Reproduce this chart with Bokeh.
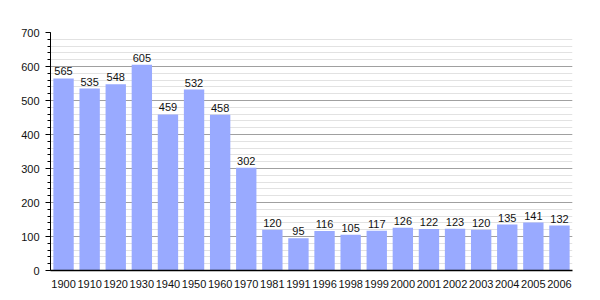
from bokeh.plotting import figure
from bokeh.models import FactorRange, Range1d, ColumnDataSource, FixedTicker
from bokeh.core.properties import value
from bokeh.embed import file_html
from bokeh.resources import INLINE

years = ["1900", "1910", "1920", "1930", "1940", "1950", "1960", "1970", "1981", "1991",
         "1996", "1998", "1999", "2000", "2001", "2002", "2003", "2004", "2005", "2006"]
population = [565, 535, 548, 605, 459, 532, 458, 302, 120, 95,
              116, 105, 117, 126, 122, 123, 120, 135, 141, 132]
y_ticks = [0, 100, 200, 300, 400, 500, 600, 700]

src = ColumnDataSource(dict(x=years, y=population, label=[str(v) for v in population]))

p = figure(width=600, height=300, output_backend="svg", toolbar_location=None,
           x_range=FactorRange(factors=years, range_padding=0),
           y_range=Range1d(0, 700),
           min_border_left=50, min_border_right=28, min_border_top=32, min_border_bottom=30)
p.outline_line_color = None
p.background_fill_color = "white"
p.border_fill_color = "white"

p.vbar(x="x", top="y", width=0.78, source=src, fill_color="#99aaff", line_color=None)
p.text(x="x", y="y", text="label", source=src, text_align="center", text_baseline="bottom",
       y_offset=-3, text_font_size="11px", text_color="#111111",
       text_font=value("Liberation Sans"))

p.xgrid.grid_line_color = None
p.ygrid.grid_line_color = "#a0a0a0"
p.ygrid.minor_grid_line_color = "#e2e2e2"
p.ygrid.level = "underlay"

p.yaxis.ticker = FixedTicker(ticks=y_ticks, minor_ticks=list(range(0, 701, 20)))
p.yaxis.axis_line_color = "black"
p.yaxis.major_tick_line_color = "black"
p.yaxis.minor_tick_line_color = "black"
p.yaxis.major_tick_out = 5
p.yaxis.major_tick_in = 0
p.yaxis.minor_tick_out = 3
p.yaxis.minor_tick_in = 0
p.yaxis.major_label_text_font_size = "11px"
p.yaxis.major_label_text_font = "Liberation Sans"
p.yaxis.major_label_text_color = "#111111"
p.yaxis.major_label_standoff = 6

p.xaxis.axis_line_color = "black"
p.xaxis.axis_line_width = 1.5
p.xaxis.major_tick_line_color = None
p.xaxis.minor_tick_line_color = None
p.xaxis.major_label_text_font_size = "11px"
p.xaxis.major_label_text_font = "Liberation Sans"
p.xaxis.major_label_text_color = "#111111"
p.xaxis.major_label_standoff = 3

open("out.html", "w").write(file_html(p, INLINE))
